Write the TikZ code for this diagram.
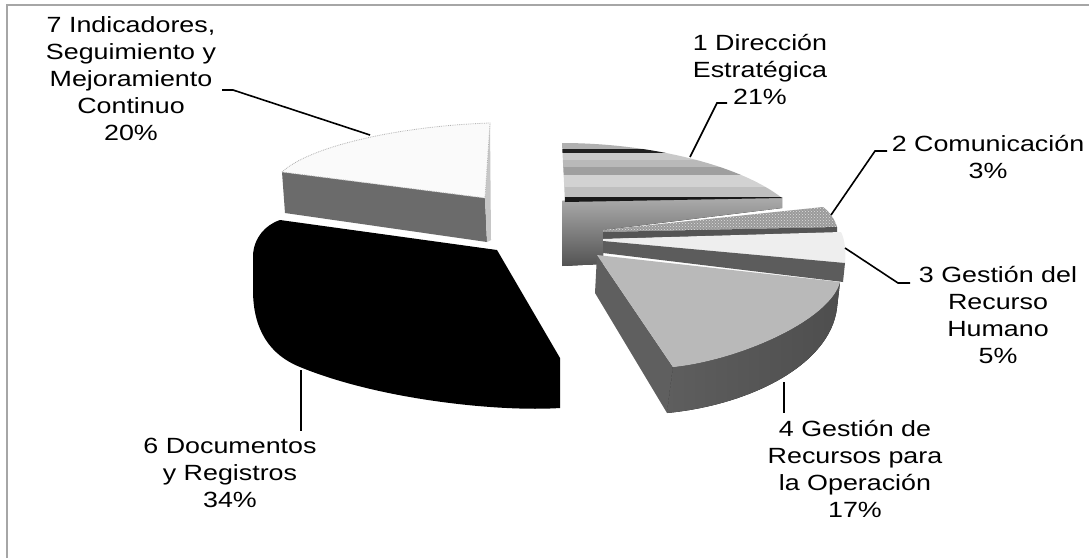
\documentclass[tikz,border=0pt]{standalone}
\usepackage{fontspec}
\setmainfont[FakeStretch=1.22]{Liberation Sans}
\usetikzlibrary{patterns}
\definecolor{sideseven}{HTML}{6B6B6B}
\definecolor{topthree}{HTML}{EEEEEE}
\definecolor{sidethree}{HTML}{5C5C5C}
\definecolor{sidetwo}{HTML}{555555}
\definecolor{toptwo}{HTML}{9A9A9A}
\definecolor{topfour}{HTML}{B9B9B9}
\definecolor{sidefour}{HTML}{5F5F5F}
\definecolor{frontL}{HTML}{5E5E5E}
\definecolor{frontR}{HTML}{4E4E4E}
\definecolor{frameg}{HTML}{A6A6A6}
\begin{document}
\begin{tikzpicture}[x=1pt,y=-1pt,
  font=\fontsize{22}{27}\selectfont,
  lab/.style={anchor=north, inner sep=0pt, align=center},
  lead/.style={line width=1.6pt, black}]
\useasboundingbox (0,0) rectangle (1089,558);
\fill[white] (0,0) rectangle (1089,558);
\draw[frameg, line width=2.5pt] (7,558) -- (7,5) -- (1089,5);

% slice 7
\fill[sideseven] (282,172) -- (485,198) -- (487,242) -- (285,213) -- cycle;
\fill[gray!45] (490,123) -- (491,240) -- (487,242) -- (485,198) -- cycle;
\filldraw[fill=white!98!black, draw=gray!60, densely dotted, line width=0.8pt]
  (282,172) .. controls (310,146) and (400,126) .. (490,123) -- (485,198) -- cycle;

% slice 6
\fill[black] (280,220) -- (497,250) -- (560,358) -- (560,408)
  .. controls (500,412) and (380,400) .. (300,367)
  .. controls (270,355) and (253,330) .. (253,290) -- (253,255)
  .. controls (254,238) and (265,225) .. (280,220) -- cycle;

% slice 1
\fill[top color=gray!65, bottom color=gray!50!black!90]
  (562,201) -- (782,197) -- (782,208) -- (603,230) -- (603,264) -- (562,266) -- cycle;
\begin{scope}
\clip (562,143) .. controls (650,143) and (740,165) .. (782,198) -- (565,202) -- cycle;
\fill[gray!62] (550,138) rectangle (790,149);
\fill[gray!25!black] (550,149) rectangle (790,153);
\fill[gray!42] (550,153) rectangle (790,160);
\fill[gray!55] (550,160) rectangle (790,167);
\fill[gray!75] (550,167) rectangle (790,175);
\fill[gray!35] (550,175) rectangle (790,187);
\fill[gray!50] (550,187) rectangle (790,197);
\fill[gray!20!black] (550,197) rectangle (790,205);
\end{scope}

% slice 2
\fill[toptwo] (603,230) -- (823,207) .. controls (830,212) and (835,220) .. (837,227) -- (603,232) -- cycle;
\fill[pattern=crosshatch dots, pattern color=gray!25] (603,230) -- (823,207) .. controls (830,212) and (835,220) .. (837,227) -- (603,232) -- cycle;
\fill[sidetwo] (603,232) -- (837,227) -- (837,233) -- (603,239) -- cycle;

% slice 3
\fill[topthree] (603,239) -- (841,232) .. controls (845,240) and (846,252) .. (845,263) -- (603,241) -- cycle;
\fill[sidethree] (603,241) -- (845,263) -- (843,282) -- (603,253) -- cycle;

% slice 4
\fill[sidefour] (597,255) -- (673,367) -- (667,413) -- (595,293) -- cycle;
\fill[left color=frontL, right color=frontR]
  (673,367) .. controls (740,360) and (830,320) .. (840,282) -- (837,308)
  .. controls (830,365) and (750,405) .. (667,413) -- cycle;
\fill[topfour] (597,255) -- (840,282) .. controls (830,320) and (740,360) .. (673,367) -- cycle;

% labels
\node[lab] (n7) at (131,12) {\rule{0pt}{20pt}7 Indicadores,\\Seguimiento y\\Mejoramiento\\Continuo\\20\%};
\node[lab] (n1) at (760,30) {\rule{0pt}{20pt}1 Dirección\\Estratégica\\21\%};
\node[lab] (n2) at (988,131) {\rule{0pt}{20pt}2 Comunicación\\3\%};
\node[lab] (n3) at (998,262) {\rule{0pt}{20pt}3 Gestión del\\Recurso\\Humano\\5\%};
\node[lab] (n4) at (855,416) {\rule{0pt}{20pt}4 Gestión de\\Recursos para\\la Operación\\17\%};
\node[lab] (n6) at (230,433) {\rule{0pt}{20pt}6 Documentos\\y Registros\\34\%};

% leaders
\coordinate (s7) at (370,135); \coordinate (k7) at (233,90); \coordinate (t7) at (222,90);
\coordinate (s1) at (690,157); \coordinate (k1) at (717,103); \coordinate (t1) at (727,103);
\coordinate (s2) at (831,215); \coordinate (k2) at (875,151); \coordinate (t2) at (887,151);
\coordinate (s3) at (845,248); \coordinate (k3) at (898,283); \coordinate (t3) at (910,283);
\coordinate (s4) at (784,382); \coordinate (t4) at (784,413);
\coordinate (s6) at (301,370); \coordinate (t6) at (301,431);
\draw[lead] (s7) -- (k7) -- (t7);
\draw[lead] (s1) -- (k1) -- (t1);
\draw[lead] (s2) -- (k2) -- (t2);
\draw[lead] (s3) -- (k3) -- (t3);
\draw[lead] (s4) -- (t4);
\draw[lead] (s6) -- (t6);
\end{tikzpicture}
\end{document}
